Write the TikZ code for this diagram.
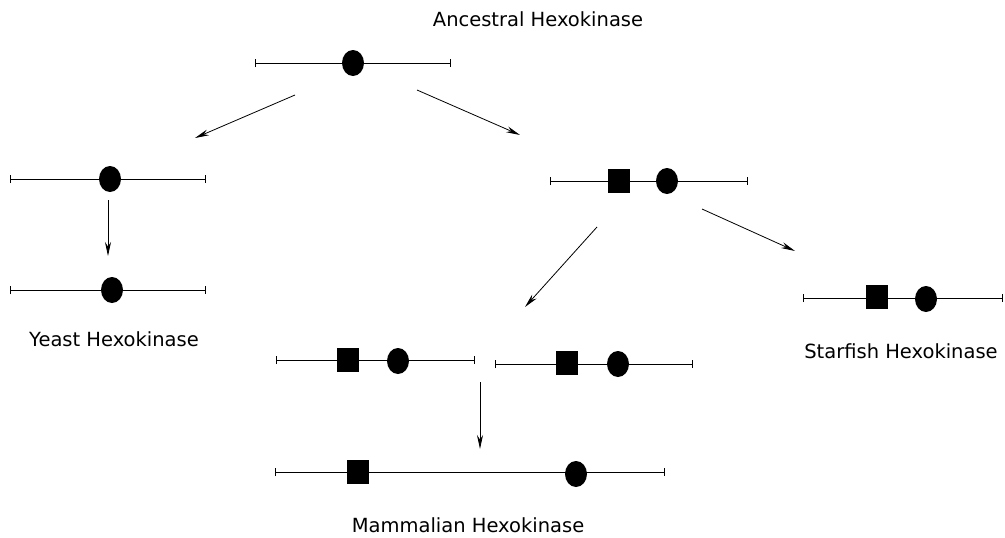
\documentclass[tikz,border=0pt]{standalone}
\usepackage{fontspec}
\setmainfont{DejaVu Sans}
\usetikzlibrary{arrows.meta, shapes.geometric}
\tikzset{
  seqbar/.style={line width=0.9pt, {Bar[width=8pt]}-{Bar[width=8pt]}},
  circdom/.style={ellipse, fill=black, inner sep=0pt, minimum width=22pt, minimum height=26pt},
  sqdom/.style={rectangle, fill=black, inner sep=0pt, minimum width=22pt, minimum height=24pt},
  step arrow/.style={line width=0.8pt, -{Stealth[length=14pt, width=6pt]}},
  lbl/.style={anchor=base, inner sep=0pt, font=\fontsize{19.5}{22}\selectfont}
}

\begin{document}
\begin{tikzpicture}[x=1pt, y=-1pt]
    \useasboundingbox (0,0) rectangle (1005,538);

    % ancestral
    \node[lbl] (anclbl) at (538,27) {Ancestral Hexokinase};
    \draw[seqbar] (255,63) -- (451,63);
    \node[circdom] (anc) at (353,63) {};

    % yeast branch
    \draw[seqbar] (10,179) -- (206,179);
    \node[circdom] (ya) at (110,179) {};
    \draw[seqbar] (10,290) -- (206,290);
    \node[circdom] (yb) at (112,290) {};
    \node[lbl] (yeastlbl) at (114,346) {Yeast Hexokinase};

    % duplicated gene
    \draw[seqbar] (550,181) -- (748,181);
    \node[sqdom] (dsq) at (619,181) {};
    \node[circdom] (dci) at (667,181) {};

    % starfish
    \draw[seqbar] (803,298) -- (1003,298);
    \node[sqdom] (ssq) at (877,297) {};
    \node[circdom] (sci) at (926,299) {};
    \node[lbl] (starlbl) at (901,358) {Starfish Hexokinase};

    % two copies, then fusion
    \draw[seqbar] (276,360) -- (475,360);
    \node[sqdom] (m1sq) at (348,360) {};
    \node[circdom] (m1ci) at (398,361) {};
    \draw[seqbar] (495,364) -- (693,364);
    \node[sqdom] (m2sq) at (567,363) {};
    \node[circdom] (m2ci) at (618,364) {};

    \draw[seqbar] (275,472) -- (665,472);
    \node[sqdom] (msq) at (358,472) {};
    \node[circdom] (mci) at (576,474) {};
    \node[lbl] (mamlbl) at (468,532) {Mammalian Hexokinase};

    % arrows
    \coordinate (a1s) at (295,95);   \coordinate (a1e) at (195,138);
    \coordinate (a2s) at (417,90);   \coordinate (a2e) at (520,135);
    \coordinate (a3s) at (108,200);  \coordinate (a3e) at (108,256);
    \coordinate (a4s) at (597,227);  \coordinate (a4e) at (525,307);
    \coordinate (a5s) at (702,209);  \coordinate (a5e) at (795,251);
    \coordinate (a6s) at (480,382);  \coordinate (a6e) at (480,449);
    \foreach \s/\e in {a1s/a1e, a2s/a2e, a3s/a3e, a4s/a4e, a5s/a5e, a6s/a6e}
      \draw[step arrow] (\s) -- (\e);
\end{tikzpicture}
\end{document}
